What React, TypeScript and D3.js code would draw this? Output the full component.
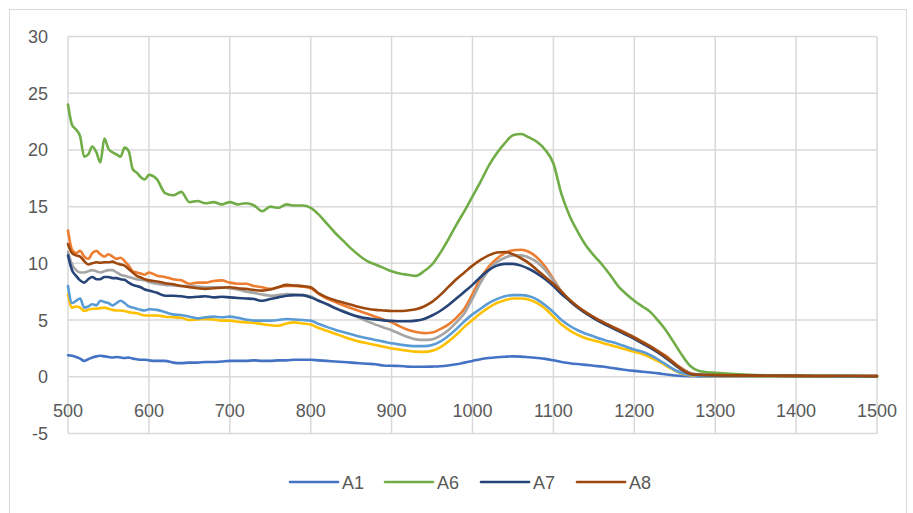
import React, { useRef, useEffect } from "react";
import * as d3 from "d3";

const wavelengths = [
  500, 505, 510, 515, 520, 525, 530, 535, 540, 545, 550, 555, 560, 565, 570, 575, 580, 585, 590, 595, 600,
  610, 620, 630, 640, 650, 660, 670, 680, 690, 700, 710, 720, 730, 740, 750, 760, 770, 780, 790, 800,
  810, 820, 830, 840, 850, 860, 870, 880, 890, 900, 910, 920, 930, 940, 950, 960, 970, 980, 990, 1000,
  1010, 1020, 1030, 1040, 1050, 1060, 1070, 1080, 1090, 1100,
  1110, 1120, 1130, 1140, 1150, 1160, 1170, 1180, 1190, 1200, 1210, 1220, 1230, 1240, 1250, 1260, 1270, 1280, 1290, 1300,
  1350, 1400, 1450, 1500,
];

const a1 = [
  1.9, 1.85, 1.75, 1.6, 1.4, 1.55, 1.7, 1.8, 1.85, 1.8, 1.75, 1.7, 1.75, 1.7, 1.65, 1.7, 1.6, 1.55, 1.5, 1.5, 1.45,
  1.4, 1.4, 1.25, 1.2, 1.25, 1.25, 1.3, 1.3, 1.35, 1.4, 1.4, 1.4, 1.45, 1.4, 1.4, 1.45, 1.45, 1.5, 1.5, 1.5,
  1.45, 1.4, 1.35, 1.3, 1.25, 1.2, 1.15, 1.1, 1.0, 0.97, 0.95, 0.9, 0.88, 0.88, 0.9, 0.93, 1.0, 1.1, 1.25, 1.4,
  1.55, 1.65, 1.72, 1.77, 1.8, 1.78, 1.72, 1.66, 1.58, 1.45,
  1.3, 1.2, 1.12, 1.05, 0.97, 0.9, 0.8, 0.7, 0.6, 0.52, 0.45, 0.38, 0.3, 0.2, 0.12, 0.07, 0.05, 0.04, 0.03, 0.03,
  0.02, 0.02, 0.02, 0.02,
];

const a2 = [
  12.9, 11.2, 10.9, 11.1, 10.6, 10.4, 10.9, 11.1, 10.8, 10.6, 10.8, 10.6, 10.4, 10.5, 10.2, 9.8, 9.3, 9.2, 9.1, 9.0, 9.2,
  8.9, 8.8, 8.6, 8.5, 8.2, 8.3, 8.3, 8.45, 8.5, 8.3, 8.2, 8.2, 8.0, 7.9, 7.75, 7.9, 8.0, 8.0, 7.95, 7.8,
  7.3, 6.9, 6.6, 6.3, 6.05, 5.8, 5.55, 5.3, 5.05, 4.8, 4.45, 4.15, 3.95, 3.85, 3.9, 4.2, 4.6, 5.2, 6.0, 7.3,
  8.7, 9.7, 10.4, 10.9, 11.15, 11.2, 11.0, 10.5, 9.7, 8.6,
  7.5, 6.7, 6.1, 5.6, 5.2, 4.85, 4.5, 4.2, 3.85, 3.5, 3.1, 2.7, 2.25, 1.8, 1.2, 0.7, 0.3, 0.2, 0.17, 0.15,
  0.1, 0.08, 0.07, 0.06,
];

const a3 = [
  11.0, 9.9, 9.4, 9.2, 9.2, 9.3, 9.4, 9.3, 9.2, 9.3, 9.4, 9.4, 9.2, 9.0, 8.9, 8.8, 8.7, 8.6, 8.55, 8.5, 8.35,
  8.2, 8.1, 8.05, 8.0, 8.0, 7.95, 7.9, 7.9, 7.9, 7.8, 7.7, 7.5, 7.4, 7.25, 7.15, 7.2, 7.3, 7.25, 7.2, 7.1,
  6.7, 6.4, 6.1, 5.8, 5.5, 5.2, 4.9, 4.6, 4.35, 4.1, 3.8, 3.5, 3.3, 3.25, 3.3, 3.6, 4.1, 4.8, 5.6, 6.9,
  8.3, 9.4, 10.1, 10.5, 10.7, 10.7, 10.5, 10.1, 9.4, 8.5,
  7.5, 6.7, 6.1, 5.6, 5.2, 4.85, 4.5, 4.15, 3.8, 3.45, 3.05, 2.65, 2.2, 1.7, 1.15, 0.65, 0.3, 0.2, 0.17, 0.15,
  0.1, 0.08, 0.07, 0.06,
];

const a4 = [
  7.3, 6.1, 6.2, 6.1, 5.8, 5.9, 6.0, 6.0, 6.05, 6.1, 6.0, 5.9, 5.85, 5.85, 5.8, 5.7, 5.65, 5.6, 5.5, 5.4, 5.4,
  5.4, 5.3, 5.25, 5.2, 5.0, 5.05, 5.1, 5.05, 4.95, 4.95, 4.85, 4.8, 4.75, 4.65, 4.55, 4.5, 4.7, 4.8, 4.7, 4.6,
  4.3, 4.05, 3.8, 3.55, 3.3, 3.1, 2.95, 2.8, 2.65, 2.5, 2.4, 2.3, 2.22, 2.2, 2.3, 2.6, 3.1, 3.7, 4.4, 5.0,
  5.6, 6.1, 6.5, 6.75, 6.9, 6.9, 6.8, 6.5, 6.0, 5.3,
  4.6, 4.1, 3.7, 3.4, 3.2, 3.0, 2.8, 2.6, 2.4, 2.2, 2.0, 1.7, 1.35, 0.95, 0.55, 0.25, 0.12, 0.08, 0.06, 0.05,
  0.04, 0.04, 0.03, 0.03,
];

const a5 = [
  8.0, 6.5, 6.7, 6.9, 6.1, 6.2, 6.4, 6.3, 6.7, 6.6, 6.5, 6.3, 6.5, 6.7, 6.5, 6.2, 6.1, 6.0, 5.9, 5.85, 5.95,
  5.9, 5.7, 5.5, 5.45, 5.3, 5.15, 5.25, 5.3, 5.25, 5.3, 5.2, 5.05, 4.95, 4.95, 4.95, 5.0, 5.1, 5.05, 5.0, 4.95,
  4.65, 4.4, 4.15, 3.95, 3.75, 3.55, 3.4, 3.25, 3.1, 2.95, 2.85, 2.75, 2.7, 2.7, 2.8, 3.1, 3.6, 4.2, 4.9, 5.5,
  6.0, 6.5, 6.85, 7.1, 7.2, 7.2, 7.1, 6.8, 6.3, 5.7,
  5.0, 4.5, 4.1, 3.8, 3.55, 3.3, 3.1, 2.9, 2.65, 2.4, 2.2, 1.9, 1.5, 1.05, 0.6, 0.3, 0.15, 0.1, 0.08, 0.07,
  0.05, 0.05, 0.04, 0.04,
];

const a6 = [
  24.0, 22.2, 21.8, 21.2, 19.4, 19.6, 20.3, 19.8, 18.9, 21.0, 20.1, 19.8, 19.6, 19.4, 20.2, 19.9, 18.3, 18.0, 17.6, 17.4, 17.8,
  17.4, 16.2, 16.0, 16.3, 15.4, 15.5, 15.3, 15.4, 15.2, 15.4, 15.2, 15.3, 15.1, 14.6, 15.0, 14.9, 15.2, 15.1, 15.1, 14.9,
  14.3, 13.5, 12.7, 12.0, 11.3, 10.7, 10.2, 9.9, 9.6, 9.3, 9.1, 9.0, 8.9, 9.3, 9.9, 10.9, 12.1, 13.4, 14.6, 15.9,
  17.2, 18.6, 19.7, 20.6, 21.3, 21.4, 21.1, 20.7, 20.0, 18.8,
  16.1, 14.2, 12.8, 11.6, 10.7, 9.9, 9.0, 8.0, 7.3, 6.7, 6.2, 5.7, 4.9, 4.0, 2.9, 1.8, 0.9, 0.5, 0.4, 0.35,
  0.15, 0.1, 0.08, 0.05,
];

const a7 = [
  10.7, 9.4, 8.9, 8.5, 8.3, 8.6, 8.8, 8.6, 8.6, 8.8, 8.8, 8.7, 8.7, 8.6, 8.55, 8.3, 8.1, 8.0, 7.9, 7.7, 7.6,
  7.4, 7.15, 7.15, 7.1, 7.0, 7.05, 7.1, 7.0, 7.05, 7.0, 6.95, 6.9, 6.85, 6.7, 6.85, 7.0, 7.15, 7.2, 7.2, 7.0,
  6.7, 6.4, 6.05, 5.75, 5.5, 5.3, 5.15, 5.05, 4.97, 4.93, 4.9, 4.9, 4.95, 5.1, 5.4, 5.8, 6.3, 6.9, 7.5, 8.1,
  8.8, 9.4, 9.8, 9.95, 9.95, 9.8, 9.5, 9.1, 8.6, 8.0,
  7.3, 6.7, 6.1, 5.6, 5.15, 4.75, 4.4, 4.05, 3.7, 3.35, 2.95, 2.55, 2.1, 1.6, 1.05, 0.55, 0.25, 0.17, 0.15, 0.13,
  0.1, 0.08, 0.07, 0.06,
];

const a8 = [
  11.7, 10.9, 10.7, 10.6, 10.2, 9.9, 10.0, 10.1, 10.05, 10.1, 10.1, 10.15, 10.0, 9.9, 9.8, 9.5, 9.2, 8.9, 8.75, 8.6, 8.5,
  8.4, 8.25, 8.15, 8.0, 7.9, 7.8, 7.75, 7.8, 7.85, 7.9, 7.8, 7.75, 7.65, 7.6, 7.7, 7.9, 8.1, 8.05, 8.0, 7.9,
  7.35, 7.0, 6.75, 6.55, 6.35, 6.15, 6.0, 5.9, 5.85, 5.8, 5.8, 5.85, 5.95, 6.2, 6.6, 7.2, 7.9, 8.6, 9.2, 9.8,
  10.3, 10.7, 10.95, 11.0, 10.8, 10.45, 10.0, 9.4, 8.8, 8.2,
  7.5, 6.8, 6.2, 5.7, 5.25, 4.85, 4.5, 4.15, 3.8, 3.45, 3.05, 2.65, 2.2, 1.7, 1.15, 0.6, 0.25, 0.18, 0.16, 0.15,
  0.1, 0.08, 0.07, 0.06,
];

const seriesNames = ["A1", "A2", "A3", "A4", "A5", "A6", "A7", "A8"];
const seriesValues = [a1, a2, a3, a4, a5, a6, a7, a8];
const seriesColors = ["#4472C4", "#ED7D31", "#A5A5A5", "#FFC000", "#5B9BD5", "#70AD47", "#264478", "#9E480E"];
const legendNames = ["A1", "A6", "A7", "A8"];

const xTicks = [500, 600, 700, 800, 900, 1000, 1100, 1200, 1300, 1400, 1500];
const yTicks = [-5, 0, 5, 10, 15, 20, 25, 30];

const W = 913;
const H = 513;
const font = "'Liberation Sans', Arial, sans-serif";

const App = () => {
  const ref = useRef(null);

  useEffect(() => {
    const svg = d3.select(ref.current);
    svg.selectAll("*").remove();

    const x = d3.scaleLinear().domain([500, 1500]).range([68, 877]);
    const y = d3.scaleLinear().domain([-5, 30]).range([433.5, 36.5]);

    // chart frame
    svg.append("rect")
      .attr("x", 9.5).attr("y", 9.5)
      .attr("width", 897).attr("height", 530)
      .attr("fill", "white")
      .attr("stroke", "#d9d9d9");

    // gridlines
    svg.append("g").selectAll("line").data(yTicks).join("line")
      .attr("x1", x(500)).attr("x2", x(1500))
      .attr("y1", d => y(d)).attr("y2", d => y(d))
      .attr("stroke", "#d9d9d9").attr("stroke-width", 1.5);
    svg.append("g").selectAll("line").data(xTicks).join("line")
      .attr("x1", d => x(d)).attr("x2", d => x(d))
      .attr("y1", y(30)).attr("y2", y(-5))
      .attr("stroke", "#d9d9d9").attr("stroke-width", 1.5);

    // tick labels
    svg.append("g").selectAll("text").data(yTicks).join("text")
      .attr("x", 48).attr("y", d => y(d) + 6.5)
      .attr("text-anchor", "end")
      .attr("font-family", font).attr("font-size", 18).attr("fill", "#595959")
      .text(d => d);
    svg.append("g").selectAll("text").data(xTicks).join("text")
      .attr("x", d => x(d)).attr("y", 417)
      .attr("text-anchor", "middle")
      .attr("font-family", font).attr("font-size", 18).attr("fill", "#595959")
      .text(d => d);

    // series
    const line = d3.line<number>()
      .x((_, i) => x(wavelengths[i]))
      .y(d => y(d))
      .curve(d3.curveMonotoneX);

    svg.append("g").selectAll("path").data(seriesValues).join("path")
      .attr("d", d => line(d))
      .attr("fill", "none")
      .attr("stroke", (_, i) => seriesColors[i])
      .attr("stroke-width", 2.6)
      .attr("stroke-linejoin", "round")
      .attr("stroke-linecap", "round");

    // legend
    const legendX = [290, 385, 481, 577];
    const lg = svg.append("g").selectAll("g").data(legendNames).join("g")
      .attr("transform", (_, i) => `translate(${legendX[i]},482)`);
    lg.append("line")
      .attr("x1", 0).attr("x2", 48).attr("y1", 0).attr("y2", 0)
      .attr("stroke", d => seriesColors[seriesNames.indexOf(d)])
      .attr("stroke-width", 2.6).attr("stroke-linecap", "round");
    lg.append("text")
      .attr("x", 52).attr("y", 6.5)
      .attr("font-family", font).attr("font-size", 18).attr("fill", "#595959")
      .text(d => d);
  }, []);

  return (
    <div style={{ position: "absolute", left: 0, top: 0, width: W, height: H, background: "white" }}>
      <svg ref={ref} width={W} height={H} />
    </div>
  );
};

export default App;
